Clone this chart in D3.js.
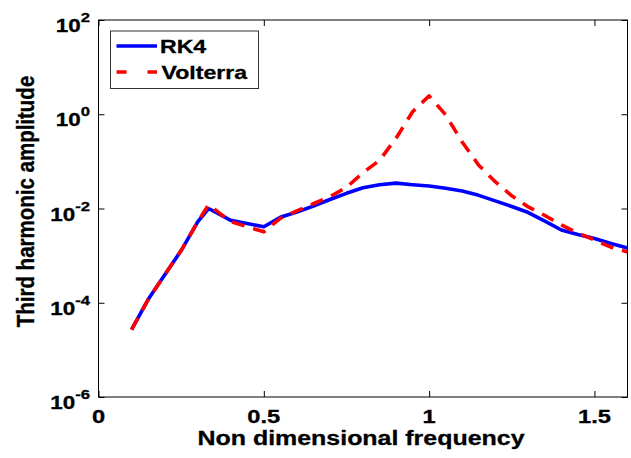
<!DOCTYPE html>
<html>
<head>
<meta charset="utf-8">
<script src="https://cdn.jsdelivr.net/npm/d3@7"></script>
<style>
  html, body { margin: 0; padding: 0; background: #fff; }
  svg { display: block; font-family: "Liberation Sans", Arial, Helvetica, sans-serif; font-weight: bold; }
  text { stroke: #000; stroke-width: 0.3px; }
</style>
</head>
<body>
<script>
// ---- data ----
const freq = [0.1, 0.15, 0.2, 0.25, 0.3, 0.333, 0.4, 0.5, 0.55, 0.6, 0.65, 0.7, 0.75, 0.8, 0.85, 0.9, 0.95, 1.0, 1.05, 1.1, 1.15, 1.2, 1.25, 1.3, 1.35, 1.4, 1.45, 1.5, 1.55, 1.6];
const rk4 = [2.7e-5, 1.17e-4, 3.9e-4, 1.28e-3, 5.2e-3, 1.0e-2, 5.6e-3, 4.1e-3, 6.5e-3, 8.4e-3, 1.13e-2, 1.55e-2, 2.1e-2, 2.75e-2, 3.2e-2, 3.45e-2, 3.2e-2, 3.0e-2, 2.7e-2, 2.35e-2, 1.9e-2, 1.45e-2, 1.1e-2, 8.2e-3, 5.4e-3, 3.5e-3, 2.8e-3, 2.3e-3, 1.8e-3, 1.45e-3];
const volterra = [2.7e-5, 1.17e-4, 3.9e-4, 1.28e-3, 5.2e-3, 1.2e-2, 5.25e-3, 3.2e-3, 6.2e-3, 8.9e-3, 1.26e-2, 1.78e-2, 2.8e-2, 5.75e-2, 0.105, 0.31, 1.13, 2.45, 0.97, 0.257, 0.083, 0.037, 0.0186, 0.0108, 7.1e-3, 4.5e-3, 3.0e-3, 2.14e-3, 1.51e-3, 1.2e-3];
const xTicks = [0, 0.5, 1, 1.5];
const xTickLabels = ["0", "0.5", "1", "1.5"];
const yTicks = [1e-6, 1e-4, 1e-2, 1e0, 1e2];
const yTickExps = ["-6", "-4", "-2", "0", "2"];
const seriesNames = ["RK4", "Volterra"];
const xLabel = "Non dimensional frequency";
const yLabel = "Third harmonic amplitude";

// ---- layout ----
const W = 631, H = 458;
const L = 98.5, R = 627.5, T = 20, B = 397;
const SX = 1.28; // horizontal stretch of text in the reference

const svg = d3.select("body").append("svg").attr("width", W).attr("height", H);

const x = d3.scaleLinear().domain([0, 1.6]).range([L, R]);
const y = d3.scaleLog().domain([1e-6, 1e2]).range([B, T]);

svg.append("clipPath").attr("id", "clip").append("rect")
  .attr("x", L).attr("y", T).attr("width", R - L).attr("height", B - T);

// ticks (inward, all four sides)
const tick = 6;
svg.append("g").attr("transform", `translate(0,${B})`)
  .call(d3.axisBottom(x).tickValues(xTicks).tickSize(-tick).tickSizeOuter(0).tickFormat(""));
svg.append("g").attr("transform", `translate(0,${T})`)
  .call(d3.axisTop(x).tickValues(xTicks).tickSize(-tick).tickSizeOuter(0).tickFormat(""));
svg.append("g").attr("transform", `translate(${L},0)`)
  .call(d3.axisLeft(y).tickValues(yTicks).tickSize(-tick).tickSizeOuter(0).tickFormat(""));
svg.append("g").attr("transform", `translate(${R},0)`)
  .call(d3.axisRight(y).tickValues(yTicks).tickSize(-tick).tickSizeOuter(0).tickFormat(""));
svg.selectAll(".domain").remove();
svg.selectAll(".tick line").attr("stroke", "#000").attr("stroke-width", 1);

// frame
svg.append("rect").attr("x", L).attr("y", T).attr("width", R - L).attr("height", B - T)
  .attr("fill", "none").attr("stroke", "#000").attr("stroke-width", 1);

// x tick labels
xTicks.forEach((v, i) => {
  svg.append("g").attr("transform", `translate(${x(v)},423) scale(${SX},1)`)
    .append("text").attr("text-anchor", "middle").attr("font-size", 18.5)
    .attr("fill", "#000").text(xTickLabels[i]);
});

// y tick labels (10^n)
yTicks.forEach((v, i) => {
  const t = svg.append("g").attr("transform", `translate(90,${y(v) + 12}) scale(${SX},1)`)
    .append("text").attr("text-anchor", "end").attr("font-size", 17.5).attr("fill", "#000");
  t.append("tspan").text("10");
  t.append("tspan").attr("dy", -10).attr("font-size", 13).text(yTickExps[i]);
});

// axis labels
svg.append("g").attr("transform", `translate(${(198 + 524) / 2},445) scale(${SX},1)`)
  .append("text").attr("text-anchor", "middle").attr("font-size", 19.5).attr("fill", "#000").text(xLabel);
svg.append("g").attr("transform", `translate(34,${(75 + 328) / 2}) rotate(-90) scale(1,1.18)`)
  .append("text").attr("text-anchor", "middle").attr("font-size", 20.5).attr("fill", "#000").text(yLabel);

// lines
const line = d3.line().x((d, i) => x(freq[i])).y(d => y(d));
const plot = svg.append("g").attr("clip-path", "url(#clip)");
plot.append("path").datum(rk4).attr("d", line)
  .attr("fill", "none").attr("stroke", "#0000ff").attr("stroke-width", 3.6)
  .attr("stroke-linejoin", "round");
plot.append("path").datum(volterra).attr("d", line)
  .attr("fill", "none").attr("stroke", "#ff0000").attr("stroke-width", 3.6)
  .attr("stroke-dasharray", "13,9").attr("stroke-linejoin", "round");

// legend
const lg = svg.append("g");
lg.append("rect").attr("x", 110.5).attr("y", 31).attr("width", 148).attr("height", 57.5)
  .attr("fill", "#fff").attr("stroke", "#333").attr("stroke-width", 1);
lg.append("line").attr("x1", 116.5).attr("x2", 157).attr("y1", 46).attr("y2", 46)
  .attr("stroke", "#0000ff").attr("stroke-width", 3.6);
lg.append("line").attr("x1", 116.5).attr("x2", 157).attr("y1", 72).attr("y2", 72)
  .attr("stroke", "#ff0000").attr("stroke-width", 3.6).attr("stroke-dasharray", "10,21");
lg.append("g").attr("transform", `translate(160,52.7) scale(1.32,1)`)
  .append("text").attr("font-size", 17.5).attr("fill", "#000").text(seriesNames[0]);
lg.append("g").attr("transform", `translate(161.5,79) scale(1.32,1)`)
  .append("text").attr("font-size", 17.5).attr("fill", "#000").text(seriesNames[1]);
</script>
</body>
</html>
